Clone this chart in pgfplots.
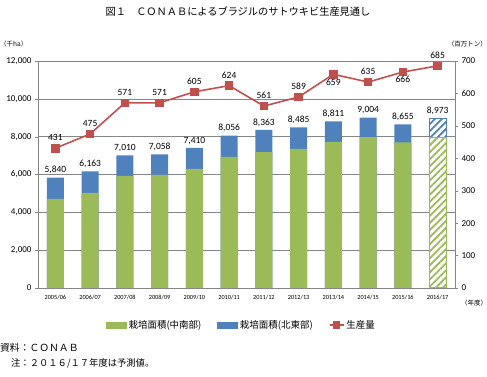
\documentclass[border=0pt]{standalone}
\usepackage{pgfplots}
\pgfplotsset{compat=1.18}
\usepackage{pgfplotstable}
\usetikzlibrary{patterns.meta}
\usepackage{fontspec}
\setmainfont{Carlito}
\newfontfamily\jp{Noto Sans CJK JP}
\definecolor{cgreen}{HTML}{9BBB59}
\definecolor{cblue}{HTML}{4F81BD}
\definecolor{cred}{HTML}{C0504D}
\definecolor{cgrid}{HTML}{868686}

\pgfplotstableread{
x total green
0 5840 4705
1 6163 5022
2 7010 5921
3 7058 5974
4 7410 6291
5 8056 6925
6 8363 7189
7 8485 7348
8 8811 7718
9 9004 7982
10 8655 7702
}\regdata
\pgfplotstableread{
x total green
11 8973 7930
}\fcdata
\pgfplotstableread{
x prod
0 431
1 475
2 571
3 571
4 605
5 624
6 561
7 589
8 659
9 635
10 666
11 685
}\proddata
\pgfplotstableread{
x prod
0 431
1 475
2 571
3 571
4 605
5 624
6 561
7 589
9 635
11 685
}\prodabove
\pgfplotstableread{
x prod
8 659
10 666
}\prodbelow

\begin{document}
\begin{tikzpicture}
\path[use as bounding box] (0pt,0pt) rectangle (487pt,377pt);
\begin{axis}[
  at={(38pt,89pt)}, anchor=south west, scale only axis,
  width=417pt, height=227pt,
  xmin=-0.5, xmax=11.5, ymin=0, ymax=12000,
  xtick={0,...,11},
  xticklabels={2005/06,2006/07,2007/08,2008/09,2009/10,2010/11,2011/12,2012/13,2013/14,2014/15,2015/16,2016/17},
  ytick={0,2000,...,12000},
  scaled y ticks=false,
  ymajorgrids, grid style={draw=cgrid, line width=0.6pt},
  axis line style={draw=cgrid, line width=0.6pt},
  ytick pos=left, tick align=outside, major tick length=3pt,
  ytick style={draw=cgrid},
  xtick style={draw=none},
  /pgf/number format/1000 sep={,},
  /pgf/number format/assume math mode=true,
  yticklabel style={font=\fontsize{9}{10}\selectfont},
  xticklabel style={font=\fontsize{6.3}{7}\selectfont, yshift=-1pt},
  ybar, bar width=17pt,
  every node near coord/.append style={font=\fontsize{9.5}{10}\selectfont, black},
]
\addplot[ybar, bar shift=0pt, fill=cblue, draw=none, nodes near coords] table[x=x,y=total]{\regdata};
\addplot[ybar, bar shift=0pt, fill=white, draw=cblue, line width=1pt,
  postaction={pattern={Lines[angle=45,distance=5pt,line width=1.8pt]}, pattern color=cblue},
  nodes near coords] table[x=x,y=total]{\fcdata};
\addplot[ybar, bar shift=0pt, fill=cgreen, draw=none] table[x=x,y=green]{\regdata};
\addplot[ybar, bar shift=0pt, fill=white, draw=cgreen, line width=1pt,
  postaction={pattern={Lines[angle=45,distance=5pt,line width=1.8pt]}, pattern color=cgreen}]
  table[x=x,y=green]{\fcdata};
\end{axis}
\begin{axis}[
  at={(38pt,89pt)}, anchor=south west, scale only axis,
  width=417pt, height=227pt,
  xmin=-0.5, xmax=11.5, ymin=0, ymax=700,
  ytick={0,100,...,700},
  axis y line*=right, axis x line=none,
  axis line style={draw=cgrid, line width=0.6pt},
  tick align=outside, major tick length=3pt,
  ytick style={draw=cgrid},
  /pgf/number format/assume math mode=true,
  yticklabel style={font=\fontsize{9}{10}\selectfont},
  legend columns=3,
  legend style={draw=none, fill=none, at={(axis description cs:0.488,-0.163)}, anchor=center,
    font=\jp\fontsize{9.5}{11}\selectfont,
    /tikz/every even column/.append style={column sep=14pt}},
]
\addlegendimage{legend image code/.code={\fill[cgreen] (0pt,-3pt) rectangle (20pt,3pt);}}
\addlegendentry{栽培面積(中南部)}
\addlegendimage{legend image code/.code={\fill[cblue] (0pt,-3pt) rectangle (20pt,3pt);}}
\addlegendentry{栽培面積(北東部)}
\addplot[cred, line width=1.6pt, mark=square*, mark size=3.5pt, mark options={solid},
  legend image code/.code={\draw[cred, line width=1.6pt] (0pt,0pt) -- (14pt,0pt);
     \fill[cred] (4pt,-3pt) rectangle (10pt,3pt);}]
  table[x=x,y=prod]{\proddata};
\addlegendentry{生産量}
\addplot[draw=none, mark=none, nodes near coords,
  every node near coord/.append style={font=\fontsize{9.5}{10}\selectfont, black, anchor=south, yshift=4pt}]
  table[x=x,y=prod]{\prodabove};
\addplot[draw=none, mark=none, nodes near coords,
  every node near coord/.append style={font=\fontsize{9.5}{10}\selectfont, black, anchor=north, yshift=-1pt}]
  table[x=x,y=prod]{\prodbelow};
\end{axis}
\node[font=\jp\fontsize{10.2}{12}\selectfont] at (238pt,365pt) {図１　ＣＯＮＡＢによるブラジルのサトウキビ生産見通し};
\node[font=\jp\fontsize{6.5}{7}\selectfont, anchor=west, inner sep=0] at (0pt,333pt) {（千ha）};
\node[font=\jp\fontsize{6.5}{7}\selectfont, anchor=east, inner sep=0] at (487pt,333pt) {（百万トン）};
\node[font=\jp\fontsize{6.5}{7}\selectfont, anchor=west, inner sep=0] at (461pt,74pt) {（年度）};
\node[font=\jp\fontsize{9.8}{11}\selectfont, anchor=west, inner sep=0] at (0pt,29pt) {資料：ＣＯＮＡＢ};
\node[font=\jp\fontsize{9.3}{11}\selectfont, anchor=west, inner sep=0] at (11pt,14pt) {注：２０１６/１７年度は予測値。};
\end{tikzpicture}
\end{document}
